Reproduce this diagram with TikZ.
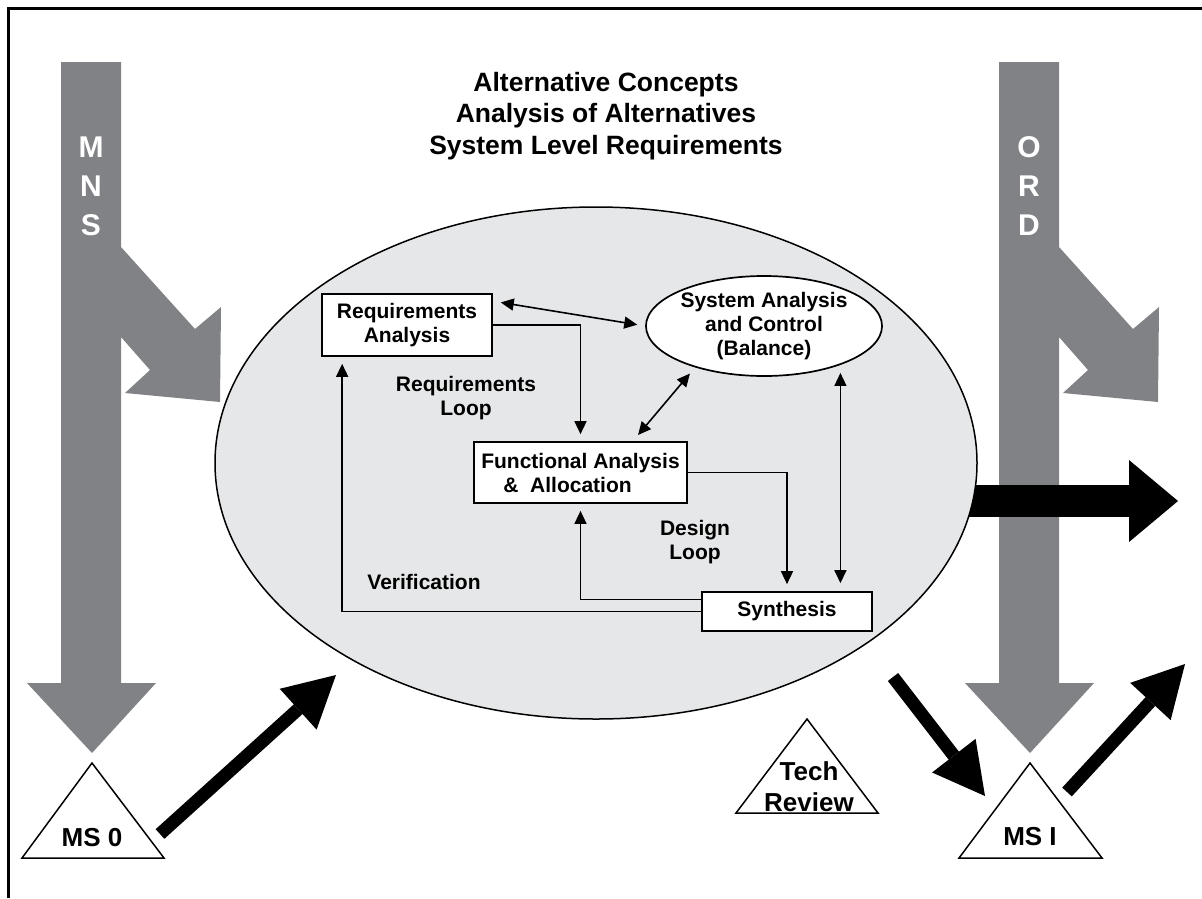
\documentclass[tikz,border=0pt]{standalone}
\usepackage{fontspec}
\setmainfont{Liberation Sans}
\usetikzlibrary{arrows.meta, positioning, shapes.geometric}

\definecolor{docgray}{RGB}{128,130,133}
\definecolor{loopfill}{RGB}{230,231,232}
\newcommand{\boxfont}{\fontsize{21}{24}\selectfont\bfseries}
\newcommand{\msfont}{\fontsize{26}{31}\selectfont\bfseries}

\tikzset{
  box/.style = {draw, line width=1.7pt, fill=white, inner sep=0pt, align=center, font=\boxfont},
  flow/.style = {line width=1.6pt, -{Triangle[length=13pt, width=12pt]}, shorten >=7pt},
  twoway/.style = {line width=1.6pt, {Triangle[length=13pt, width=12pt]}-{Triangle[length=13pt, width=12pt]}, shorten >=8pt, shorten <=8pt},
  milestone/.style = {draw, line width=1.5pt, fill=white},
  bigarrow/.style = {line width=13pt, -{Triangle[length=51pt, width=55pt, line width=0pt]}}
}

\begin{document}
\begin{tikzpicture}[x=1pt, y=-1pt]
\useasboundingbox ( 0, 0 ) rectangle ( 1202, 898 );

% Frame
\draw [line width=2.5pt] ( 1202, 8.5 ) -- ( 8.5, 8.5 ) -- ( 8.5, 898 );

% Document arrows
\fill [docgray] ( 61, 62 ) -- ( 121, 62 ) -- ( 121, 247 ) -- ( 195, 329 ) -- ( 221, 307 )
  -- ( 220, 402 ) -- ( 125, 393 ) -- ( 150, 370 ) -- ( 121, 337 ) -- ( 121, 683 )
  -- ( 156, 683 ) -- ( 92, 753 ) -- ( 27, 683 ) -- ( 61, 683 ) -- cycle;
\node (mns) at ( 91, 186 ) [text=white, align=center, font=\fontsize{30}{39}\selectfont\bfseries] {M\\N\\S};

\fill [docgray] ( 999, 62 ) -- ( 1059, 62 ) -- ( 1059, 247 ) -- ( 1133, 329 ) -- ( 1159, 307 )
  -- ( 1158, 402 ) -- ( 1063, 393 ) -- ( 1088, 370 ) -- ( 1059, 337 ) -- ( 1059, 683 )
  -- ( 1094, 683 ) -- ( 1030, 753 ) -- ( 965, 683 ) -- ( 999, 683 ) -- cycle;
\node (ord) at ( 1029, 186 ) [text=white, align=center, font=\fontsize{30}{39}\selectfont\bfseries] {O\\R\\D};

% Output of the phase
\coordinate (core) at ( 596, 501 );
\coordinate (out) at ( 1178, 501 );
\draw [line width=32pt, -{Triangle[length=49pt, width=82pt, line width=0pt]}] (core) -- (out);

% Systems engineering process
\node (process) at ( 596, 463 ) [draw, ellipse, line width=1.5pt, fill=loopfill, minimum width=762pt, minimum height=512pt] {};

\node (title) at ( 606, 116 ) [align=center, font=\fontsize{26.5}{31.5}\selectfont\bfseries]
  {Alternative Concepts\\Analysis of Alternatives\\System Level Requirements};

\node (req) at ( 407, 325 ) [box, minimum width=170pt, minimum height=62pt] {Requirements\\Analysis};
\node (func) at ( 580.5, 472.5 ) [box, minimum width=213pt, minimum height=61pt, align=left]
  {Functional Analysis\\\hspace*{1.05em}\& \ Allocation};
\node (syn) at ( 787, 611.5 ) [box, minimum width=170pt, minimum height=39pt] {Synthesis};
\node (sys) at ( 764, 326 ) [box, ellipse, minimum width=196pt, minimum height=100pt] {System Analysis\\and Control\\(Balance)};

\node (reqloop) at ( 466, 398 ) [align=center, font=\boxfont] {Requirements\\Loop};
\node (designloop) at ( 695, 542 ) [align=center, font=\boxfont] {Design\\Loop};
\node (verif) at ( 424, 582 ) [font=\boxfont] {Verification};

% Loops
\draw [flow] (req.east) -| (func.north);
\draw [flow] (func.east) -| (syn.north);
\draw [flow] ([yshift=12pt]syn.west) -| (func.south);
\draw [flow] (syn.west) -| ([xshift=21pt]req.south west);

% Balance
\path [twoway] ([yshift=-8pt]req.north east) edge (sys.west);
\path [twoway] ([xshift=-55pt]func.north east) edge (sys.211);
\path [twoway] (sys.-27.5) edge (sys.-27.5 |- syn.north);

% Milestones
\draw [milestone] ( 92, 763 ) -- ( 164, 858 ) -- ( 22, 858 ) -- cycle;
\node (ms0) at ( 92, 838 ) [font=\msfont] {MS 0};
\draw [milestone] ( 807, 719 ) -- ( 878, 813 ) -- ( 736, 813 ) -- cycle;
\node (tech) at ( 809, 786.5 ) [align=center, font=\msfont] {Tech\\Review};
\draw [milestone] ( 1030, 763 ) -- ( 1102, 858 ) -- ( 959, 858 ) -- cycle;
\node (ms1) at ( 1030, 837 ) [font=\msfont] {MS I};

% Transitions
\coordinate (ms0out) at ( 160, 834 );
\coordinate (start) at ( 336, 675 );
\coordinate (review) at ( 893, 677 );
\coordinate (ms1in) at ( 985, 796 );
\coordinate (ms1out) at ( 1067, 792 );
\coordinate (next) at ( 1185, 664 );
\draw [bigarrow] (ms0out) -- (start);
\draw [bigarrow] (review) -- (ms1in);
\draw [bigarrow] (ms1out) -- (next);

\end{tikzpicture}
\end{document}
